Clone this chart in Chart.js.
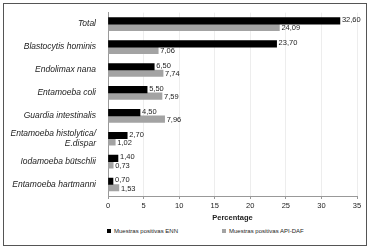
<!DOCTYPE html>
<html>
<head>
<meta charset="utf-8">
<script src="https://cdn.jsdelivr.net/npm/chart.js@4.4.1/dist/chart.umd.min.js"></script>
<style>
    body { margin: 0; background: #fff; font-family: "Liberation Sans", Arial, sans-serif; }
    #frame { position: absolute; left: 3px; top: 3px; width: 362px; height: 241px; border: 1px solid #555; }
    #wrap { position: absolute; left: 0; top: 0; width: 362px; height: 222px; }
    .leg { position: absolute; top: 223px; font-size: 6px; color: #222; line-height: 8px; white-space: nowrap; }
    .sw { display: inline-block; width: 4px; height: 4px; margin-right: 3px; vertical-align: 0px; }
</style>
</head>
<body>
<div id="frame">
    <div id="wrap"><canvas id="myChart"></canvas></div>
    <div class="leg" style="left:103px"><span class="sw" style="background:#000"></span>Muestras positivas ENN</div>
    <div class="leg" style="left:218px"><span class="sw" style="background:#a3a3a3"></span>Muestras positivas API-DAF</div>
</div>
<script>
// Data kategori dan nilai (persentase)
const categories = [
    'Total',
    'Blastocytis hominis',
    'Endolimax nana',
    'Entamoeba coli',
    'Guardia intestinalis',
    ['Entamoeba histolytica/', 'E.dispar'],
    'Iodamoeba bütschlii',
    'Entamoeba hartmanni'
];
const ennValues = [32.60, 23.70, 6.50, 5.50, 4.50, 2.70, 1.40, 0.70];
const apiDafValues = [24.09, 7.06, 7.74, 7.59, 7.96, 1.02, 0.73, 1.53];
const seriesNames = ['Muestras positivas ENN', 'Muestras positivas API-DAF'];
const xTicks = [0, 5, 10, 15, 20, 25, 30, 35];

// Label nilai di ujung batang (format koma)
const valueLabels = {
    id: 'valueLabels',
    afterDatasetsDraw(chart) {
        const ctx = chart.ctx;
        ctx.save();
        ctx.font = '7.5px "Liberation Sans", Arial, sans-serif';
        ctx.fillStyle = '#222';
        ctx.textBaseline = 'middle';
        ctx.textAlign = 'left';
        chart.data.datasets.forEach((ds, i) => {
            const meta = chart.getDatasetMeta(i);
            meta.data.forEach((bar, j) => {
                const txt = ds.data[j].toFixed(2).replace('.', ',');
                ctx.fillText(txt, bar.x + 2, bar.y + (i === 0 ? -1 : 1));
            });
        });
        ctx.restore();
    }
};

const ctx = document.getElementById('myChart').getContext('2d');
const myChart = new Chart(ctx, {
    type: 'bar',
    data: {
        labels: categories,
        datasets: [
            { label: seriesNames[0], data: ennValues, backgroundColor: '#000' },
            { label: seriesNames[1], data: apiDafValues, backgroundColor: '#a3a3a3' }
        ]
    },
    options: {
        indexAxis: 'y',
        responsive: true,
        maintainAspectRatio: false,
        animation: false,
        barThickness: 6.5,
        layout: { padding: { top: 1, right: 9, bottom: 2, left: 0 } },
        plugins: {
            legend: { display: false },
            tooltip: { enabled: false }
        },
        scales: {
            y: {
                grid: { display: false },
                border: { color: '#999' },
                ticks: {
                    color: '#222',
                    padding: 4,
                    autoSkip: false,
                    font: { family: '"Liberation Sans", Arial, sans-serif', size: 8.5, style: 'italic', lineHeight: 1.1 }
                },
                afterFit(scale) { scale.width = 104; }
            },
            x: {
                min: 0,
                max: 35,
                afterBuildTicks(scale) { scale.ticks = xTicks.map(v => ({ value: v })); },
                grid: { color: '#ededed', tickColor: '#999', tickLength: 3 },
                border: { color: '#999' },
                ticks: {
                    color: '#222',
                    padding: 2,
                    font: { family: '"Liberation Sans", Arial, sans-serif', size: 7.5 }
                },
                title: {
                    display: true,
                    text: 'Percentage',
                    color: '#222',
                    padding: { top: 2, bottom: 1.5 },
                    font: { family: '"Liberation Sans", Arial, sans-serif', size: 7.5, weight: 'bold' }
                },
                afterFit(scale) { scale.height = 28; }
            }
        }
    },
    plugins: [valueLabels]
});
</script>
</body>
</html>
